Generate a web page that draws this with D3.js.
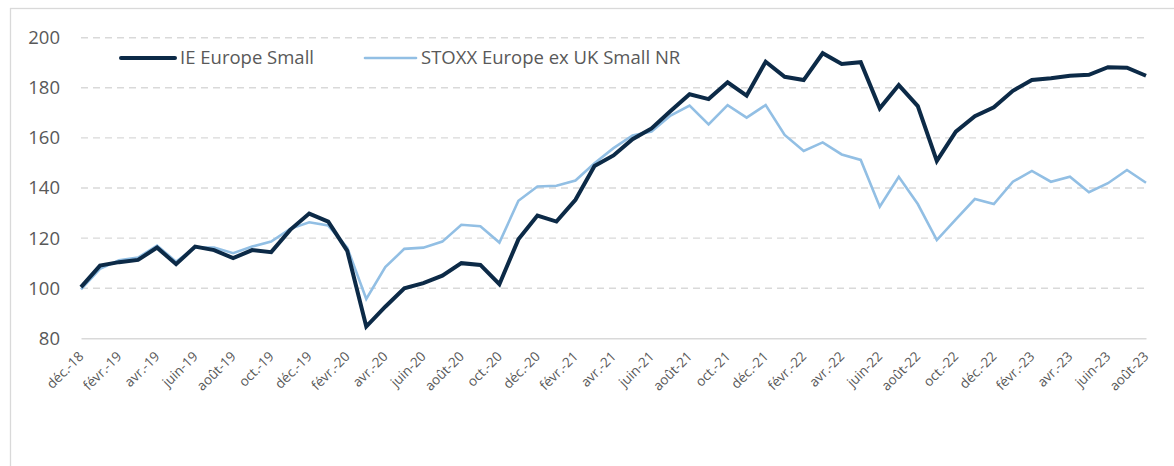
<!DOCTYPE html>
<html>
<head>
<meta charset="utf-8">
<script src="https://d3js.org/d3.v7.min.js"></script>
<style>
  body { margin: 0; background: #fff; }
  text { font-family: "Open Sans", sans-serif; }
</style>
</head>
<body>
<svg id="drawing_region_lineChart"></svg>
<script>
// month labels, déc.-18 .. août-23
const months = [
    "déc.-18",
    "janv.-19", "févr.-19", "mars-19", "avr.-19", "mai-19", "juin-19", "juil.-19", "août-19", "sept.-19", "oct.-19", "nov.-19", "déc.-19",
    "janv.-20", "févr.-20", "mars-20", "avr.-20", "mai-20", "juin-20", "juil.-20", "août-20", "sept.-20", "oct.-20", "nov.-20", "déc.-20",
    "janv.-21", "févr.-21", "mars-21", "avr.-21", "mai-21", "juin-21", "juil.-21", "août-21", "sept.-21", "oct.-21", "nov.-21", "déc.-21",
    "janv.-22", "févr.-22", "mars-22", "avr.-22", "mai-22", "juin-22", "juil.-22", "août-22", "sept.-22", "oct.-22", "nov.-22", "déc.-22",
    "janv.-23", "févr.-23", "mars-23", "avr.-23", "mai-23", "juin-23", "juil.-23", "août-23"
];

// only every other month gets a label
const tickLabels = [
    "déc.-18", "févr.-19", "avr.-19", "juin-19", "août-19", "oct.-19", "déc.-19",
    "févr.-20", "avr.-20", "juin-20", "août-20", "oct.-20", "déc.-20",
    "févr.-21", "avr.-21", "juin-21", "août-21", "oct.-21", "déc.-21",
    "févr.-22", "avr.-22", "juin-22", "août-22", "oct.-22", "déc.-22",
    "févr.-23", "avr.-23", "juin-23", "août-23"
];

const ieEuropeSmall = [
    100.4, 109.0, 110.4, 111.3, 116.2, 109.6, 116.6, 115.2, 112.0, 115.2, 114.4, 123.3, 129.8,
    126.6, 114.9, 84.7, 92.6, 100.0, 102.0, 105.0, 110.0, 109.3, 101.6, 119.5, 129.0,
    126.6, 135.3, 148.8, 153.0, 159.5, 163.8, 170.7, 177.4, 175.5, 182.2, 176.9, 190.4,
    184.4, 183.1, 193.8, 189.5, 190.2, 171.8, 181.1, 172.7, 150.8, 162.5, 168.7, 172.2,
    178.8, 183.1, 183.8, 184.8, 185.2, 188.2, 188.0, 184.8
];

const stoxxSmall = [
    99.5, 107.7, 111.2, 112.2, 117.0, 110.6, 116.2, 116.2, 114.0, 116.6, 118.6, 123.7, 126.3,
    125.0, 116.2, 95.7, 108.4, 115.7, 116.2, 118.6, 125.3, 124.7, 118.2, 134.9, 140.6,
    140.9, 143.0, 149.9, 155.9, 161.0, 162.5, 168.9, 172.9, 165.4, 173.1, 168.1, 173.1,
    161.2, 154.8, 158.2, 153.4, 151.2, 132.5, 144.5, 133.6, 119.2, 127.5, 135.6, 133.6,
    142.5, 146.8, 142.5, 144.5, 138.3, 141.9, 147.2, 142.1
];

const seriesNames = ["IE Europe Small", "STOXX Europe ex UK Small NR"];
const yTicks = [80, 100, 120, 140, 160, 180, 200];

class lineChart {
    constructor(config, data) {
        this.config = {
            parent: config.parent,
            width: config.width || 256,
            height: config.height || 256,
            margin: config.margin || { top: 10, right: 10, bottom: 10, left: 10 }
        };
        this.data = data;
        this.init();
    }

    init() {
        let self = this;

        self.svg = d3.select(self.config.parent)
            .attr('width', self.config.width)
            .attr('height', self.config.height);

        // outer chart frame (runs off the right and bottom edge)
        self.svg.append('rect')
            .attr('x', 10.5)
            .attr('y', 8.5)
            .attr('width', self.config.width + 20)
            .attr('height', self.config.height + 20)
            .attr('fill', 'none')
            .attr('stroke', '#d9d9d9')
            .attr('stroke-width', 1.3);

        self.chart = self.svg.append('g')
            .attr('transform', `translate(${self.config.margin.left}, ${self.config.margin.top})`);
        self.inner_width = self.config.width - self.config.margin.left - self.config.margin.right;
        self.inner_height = self.config.height - self.config.margin.top - self.config.margin.bottom;

        self.xscale = d3.scalePoint()
            .range([0, self.inner_width])
            .padding(0);

        self.yscale = d3.scaleLinear()
            .range([self.inner_height, 0]);

        self.colorScale = d3.scaleOrdinal()
            .domain(seriesNames)
            .range(['#0c2a47', '#92bfe4']);
        self.widthScale = d3.scaleOrdinal()
            .domain(seriesNames)
            .range([4, 2.6]);

        self.grid_group = self.chart.append('g');
        self.xaxis_group = self.chart.append('g')
            .attr('transform', `translate(0, ${self.inner_height})`);
        self.yaxis_group = self.chart.append('g');
        self.lines_group = self.chart.append('g');
        self.legend_group = self.svg.append('g');
    }

    update() {
        let self = this;
        self.xscale.domain(months);
        self.yscale.domain([80, 200]);
        self.render();
    }

    render() {
        let self = this;

        // dashed horizontal gridlines
        self.grid_group.selectAll('line')
            .data(yTicks.filter(d => d > 80))
            .join('line')
            .attr('x1', 0)
            .attr('x2', self.inner_width)
            .attr('y1', d => self.yscale(d))
            .attr('y2', d => self.yscale(d))
            .attr('stroke', '#d9d9d9')
            .attr('stroke-width', 1.4)
            .attr('stroke-dasharray', '7,5');

        // x axis
        self.xaxis = d3.axisBottom(self.xscale)
            .tickValues(tickLabels)
            .tickSize(0)
            .tickPadding(0);
        self.xaxis_group.call(self.xaxis);
        self.xaxis_group.select('.domain')
            .attr('stroke', '#d9d9d9')
            .attr('stroke-width', 1.5);
        self.xaxis_group.selectAll('.tick text')
            .attr('fill', '#595959')
            .style('font-size', '13.5px')
            .attr('text-anchor', 'end')
            .attr('y', 0)
            .attr('dy', 0)
            .attr('transform', 'translate(3, 19) rotate(-45)');

        // y axis
        self.yaxis = d3.axisLeft(self.yscale)
            .tickValues(yTicks)
            .tickSize(0)
            .tickPadding(21)
            .tickFormat(d3.format('.0f'));
        self.yaxis_group.call(self.yaxis);
        self.yaxis_group.select('.domain').remove();
        self.yaxis_group.selectAll('.tick text')
            .attr('fill', '#595959')
            .style('font-size', '18.5px');

        // series lines
        var valueline = d3.line()
            .x(function (d) { return self.xscale(d.month); })
            .y(function (d) { return self.yscale(d.value); });

        self.lines_group.selectAll('path')
            .data(self.data.slice().reverse())
            .join('path')
            .attr('d', d => valueline(d.values))
            .attr('fill', 'none')
            .attr('stroke', d => self.colorScale(d.key))
            .attr('stroke-width', d => self.widthScale(d.key))
            .attr('stroke-linejoin', 'miter');

        // legend
        const legendX = [121, 365];
        const legend = self.legend_group.selectAll('g')
            .data(self.data)
            .join('g')
            .attr('transform', (d, i) => `translate(${legendX[i]}, 58)`);
        legend.append('line')
            .attr('x1', 0)
            .attr('x2', (d, i) => i === 0 ? 54 : 51)
            .attr('stroke', d => self.colorScale(d.key))
            .attr('stroke-width', d => self.widthScale(d.key))
            .attr('stroke-linecap', 'round');
        legend.append('text')
            .attr('x', (d, i) => i === 0 ? 59 : 56)
            .attr('dy', '0.35em')
            .attr('fill', '#595959')
            .style('font-size', '18.5px')
            .text(d => d.key);
    }
}

const data = [
    { key: seriesNames[0], values: months.map((m, i) => ({ month: m, value: ieEuropeSmall[i] })) },
    { key: seriesNames[1], values: months.map((m, i) => ({ month: m, value: stoxxSmall[i] })) }
];

var config = {
    parent: '#drawing_region_lineChart',
    width: 1174,
    height: 466,
    margin: { top: 37.7, right: 28, bottom: 127.7, left: 81 }
};
const line_chart = new lineChart(config, data);
line_chart.update();
</script>
</body>
</html>
